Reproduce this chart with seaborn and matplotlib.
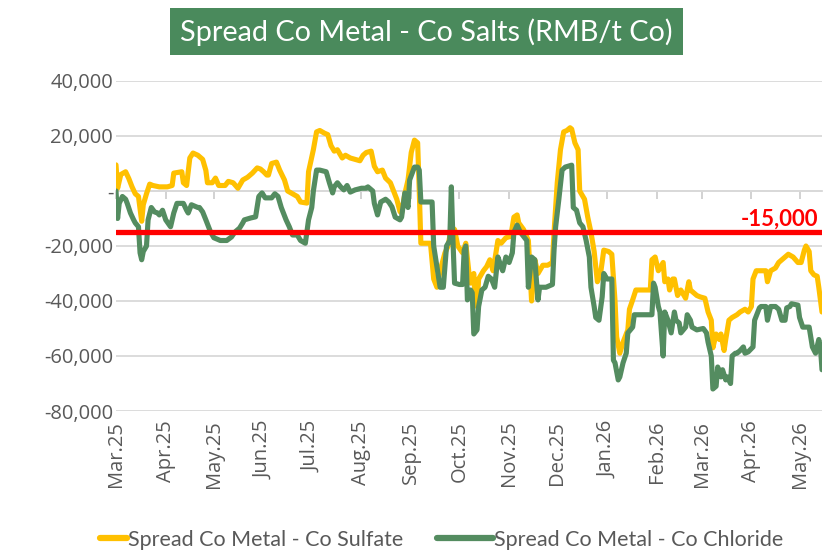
import numpy as np
import pandas as pd
import matplotlib
matplotlib.use("Agg")
import matplotlib.pyplot as plt
from matplotlib.ticker import FuncFormatter
from matplotlib.patches import Rectangle
from matplotlib.lines import Line2D
import seaborn as sns

# ---------------- data ----------------
title = "Spread Co Metal - Co Salts (RMB/t Co)"
series_names = ["Spread Co Metal - Co Sulfate", "Spread Co Metal - Co Chloride"]
start_date = "2025-03-01"          # day 0
month_labels_start = "2025-03-01"
month_labels_end = "2026-05-01"
threshold = -15000
threshold_label = "-15,000"
y_ticks = [40000, 20000, 0, -20000, -40000, -60000, -80000]

sulfate_day = [0, 1, 3, 6, 8, 10, 12, 14, 16, 17, 19, 21, 23, 27, 32, 35, 36, 41, 42, 44,
               46, 48, 51, 54, 56, 57, 60, 62, 64, 68, 70, 73, 76, 79, 82, 85, 88, 90, 92, 94,
               95, 97, 100, 102, 105, 107, 110, 113, 115, 119, 120, 123, 125, 127, 130, 132, 134, 136, 138, 141,
               143, 146, 149, 152, 154, 156, 159, 161, 163, 166, 168, 171, 173, 175, 177, 178, 180, 182, 184, 186,
               188, 189, 190, 196, 198, 200, 202, 205, 207, 209, 211, 213, 216, 218, 220, 221, 223, 224, 225, 226,
               229, 231, 233, 235, 238, 240, 243, 246, 248, 250, 251, 254, 256, 257, 259, 261, 263, 264, 266, 269,
               272, 273, 275, 277, 279, 281, 283, 284, 286, 288, 289, 291, 292, 294, 296, 298, 300, 302, 304, 307,
               309, 311, 312, 314, 316, 319, 320, 322, 324, 333, 334, 336, 338, 341, 342, 344, 345, 347, 348, 350,
               352, 355, 357, 358, 360, 362, 364, 367, 369, 371, 372, 374, 376, 377, 379, 380, 382, 384, 387, 389,
               392, 394, 396, 397, 399, 405, 406, 408, 411, 413, 415, 417, 419, 422, 425, 427, 429, 430, 432, 433,
               435, 437, 438, 440]
sulfate_value = [9500, 1000, 6000, 7000, 4500, 1500, -1000, -2000, -11000, -5000, -1000, 2500, 2000, 1500, 1500, 2000, 6500, 7000, 3000, 2000,
                 12000, 13800, 13000, 11500, 7500, 3000, 3000, 4700, 2000, 2000, 3500, 3000, 1000, 4000, 5000, 6500, 8400, 8000, 7000, 5800,
                 5800, 10000, 10500, 7600, 4000, 0, -1000, -2000, -4000, -4400, 7000, 15000, 21500, 22000, 21000, 20500, 16500, 14500, 15000, 12000,
                 13000, 12000, 11500, 11000, 13000, 14000, 14500, 9000, 7000, 7600, 4700, 3000, 0, -3000, -7500, -8000, -1000, 4000, 14000, 18500,
                 17500, 0, -19000, -19000, -32000, -35000, -29000, -22500, -20000, -13000, -14000, -20000, -22500, -19000, -30000, -33500, -30000, -41000, -42000, -32000,
                 -29000, -27500, -25000, -29000, -18000, -19000, -17000, -16500, -9500, -8700, -11600, -14000, -16700, -18000, -40000, -25000, -30000, -29000, -27000, -27000,
                 -26000, -15000, 3000, 15000, 21500, 22000, 23000, 22500, 17500, 15000, 0, -2000, -3000, -9500, -15000, -22000, -33000, -30000, -21500, -22000,
                 -23000, -40000, -53000, -59000, -55000, -50500, -43000, -39600, -36000, -36000, -25000, -24000, -29000, -26000, -33000, -32000, -36000, -32000, -32000, -38000,
                 -36000, -39000, -33000, -36000, -37000, -38000, -38500, -39000, -44000, -47000, -57000, -52000, -54000, -52000, -58000, -54000, -47000, -46000, -45000, -44000,
                 -43000, -44000, -42000, -32000, -29000, -29000, -33000, -29000, -28000, -26000, -25000, -24000, -23000, -24000, -26000, -26000, -21500, -20000, -22000, -29000,
                 -30500, -31000, -35000, -44000]

chloride_day = [0, 1, 2, 4, 6, 7, 9, 11, 12, 14, 15, 16, 17, 19, 20, 22, 24, 26, 27, 29,
                31, 34, 36, 38, 42, 44, 45, 47, 51, 52, 54, 56, 59, 61, 65, 69, 72, 74, 77, 79,
                80, 84, 87, 89, 91, 93, 97, 99, 101, 103, 106, 108, 110, 113, 115, 118, 120, 122, 123, 125,
                127, 131, 133, 135, 136, 138, 140, 142, 144, 146, 149, 153, 156, 157, 160, 161, 163, 165, 168, 170,
                172, 174, 177, 178, 180, 182, 183, 186, 188, 189, 190, 197, 198, 200, 202, 204, 206, 208, 209, 210,
                211, 214, 216, 217, 218, 219, 221, 222, 223, 225, 226, 228, 230, 232, 234, 236, 238, 240, 241, 243,
                245, 247, 248, 250, 252, 256, 257, 259, 261, 263, 264, 268, 272, 273, 274, 276, 278, 280, 284, 285,
                287, 289, 291, 293, 295, 296, 298, 299, 301, 303, 304, 306, 309, 310, 311, 313, 314, 316, 318, 319,
                322, 323, 334, 335, 336, 338, 339, 341, 342, 344, 346, 348, 349, 351, 352, 355, 356, 358, 359, 362,
                366, 368, 369, 371, 372, 374, 375, 377, 378, 380, 381, 383, 384, 386, 387, 389, 391, 392, 394, 397,
                398, 401, 402, 405, 406, 408, 411, 413, 415, 417, 418, 420, 421, 425, 426, 428, 432, 434, 436, 438,
                439, 440]
chloride_value = [0, -10000, -4500, -2000, -3000, -4500, -8000, -10500, -11600, -13000, -22500, -25000, -22000, -20000, -10500, -6000, -7600, -8000, -8700, -7000,
                  -10500, -13000, -8000, -4500, -4500, -7000, -8000, -5000, -6000, -6000, -7600, -10500, -15000, -17000, -18000, -18000, -16700, -15000, -13500, -11600,
                  -10500, -9800, -9400, -2000, -700, -2500, -2500, -1000, -2000, -6000, -10500, -13000, -16000, -16000, -18000, -19000, -10500, -6000, 0, 7600,
                  7600, 7000, 3000, -700, 1500, 3000, 1500, 400, 2000, -400, 400, 1000, 1000, 1500, 0, -4500, -8700, -4000, -3000, -4000,
                  -5800, -9500, -10500, -9500, -700, -6000, 4000, 8700, 8700, 7600, -4000, -4000, -20000, -27500, -35000, -35000, -20000, -18000, 1500, -18000,
                  -33500, -34000, -34000, -21500, -20000, -39600, -36000, -37000, -52000, -50500, -42000, -36000, -35000, -31000, -32000, -35000, -24000, -27500, -29000, -24000,
                  -26000, -22500, -15000, -12400, -15000, -18000, -35000, -24000, -25000, -39600, -35000, -35000, -34000, -21500, -13000, -3000, 7600, 8700, 9400, -6000,
                  -7000, -11600, -13000, -18000, -24000, -35000, -42000, -46000, -47000, -38500, -30000, -32000, -32000, -61500, -62500, -68700, -67600, -62500, -59000, -51600,
                  -49500, -45000, -45000, -33500, -35000, -42000, -44000, -60000, -44000, -47000, -51600, -44000, -47000, -48000, -51600, -49500, -45000, -47000, -49500, -50500,
                  -50000, -51600, -55000, -60000, -72000, -71000, -64000, -67600, -65000, -68700, -67600, -70000, -60000, -59000, -59000, -58000, -56700, -59000, -58500, -56700,
                  -47000, -42500, -42000, -42000, -47000, -42000, -42000, -43000, -47000, -47000, -42500, -42000, -41000, -41500, -46000, -49500, -49500, -56700, -59000, -54000,
                  -56700, -65000]

# ---------------- style ----------------
sns.set_theme(style="white")
plt.rcParams["font.family"] = ["Lato", "DejaVu Sans"]

col_sulfate = "#FFC000"
col_chloride = "#548C60"
col_text = "#595959"
col_grid = "#D9D9D9"
tick_font = ["Open Sans", "DejaVu Sans"]

start = pd.Timestamp(start_date)
df = pd.concat([
    pd.DataFrame({"date": start + pd.to_timedelta(sulfate_day, unit="D"),
                  "value": sulfate_value, "series": series_names[0]}),
    pd.DataFrame({"date": start + pd.to_timedelta(chloride_day, unit="D"),
                  "value": chloride_value, "series": series_names[1]}),
], ignore_index=True)

fig = plt.figure(figsize=(8.26, 5.56), dpi=100)
ax = fig.add_axes([116 / 826, 1 - 411 / 556, (822 - 116) / 826, (411 - 81) / 556])

sns.lineplot(data=df, x="date", y="value", hue="series",
             palette={series_names[0]: col_sulfate, series_names[1]: col_chloride},
             linewidth=3.7, ax=ax, legend=False, estimator=None, sort=False)

ax.axhline(threshold, color="#FF0000", linewidth=3.8, zorder=6)
ax.annotate(threshold_label, xy=(1, threshold), xycoords=ax.get_yaxis_transform(),
            xytext=(-3, 1.5), textcoords="offset points", ha="right", va="bottom",
            color="#FF0000", fontweight="bold", fontsize=16, zorder=7)

# axes
ax.set_ylim(min(y_ticks), max(y_ticks))
ax.set_yticks(y_ticks)
ax.yaxis.set_major_formatter(FuncFormatter(lambda v, p: "-" if v == 0 else f"{v:,.0f}"))
ax.set_xlim(start, start + pd.Timedelta(days=max(sulfate_day)))
months = pd.date_range(month_labels_start, month_labels_end, freq="MS")
ax.set_xticks(months)
ax.set_xticklabels([m.strftime("%b.%y") for m in months], rotation=90)
ax.tick_params(axis="x", length=0, pad=7, labelsize=14.5, labelcolor=col_text)
ax.tick_params(axis="y", length=0, pad=2, labelsize=14.5, labelcolor=col_text)
for lab in ax.get_xticklabels() + ax.get_yticklabels():
    lab.set_fontfamily(tick_font)
ax.set_xlabel("")
ax.set_ylabel("")
ax.yaxis.grid(True, color=col_grid, linewidth=1.3)
ax.xaxis.grid(False)
for s in ax.spines.values():
    s.set_visible(False)

# category-axis tick marks on the zero line
frac0 = (0 - min(y_ticks)) / (max(y_ticks) - min(y_ticks))
sec = ax.secondary_xaxis(frac0)
sec.set_alignment("bottom")
sec.set_xticks(months)
sec.set_xticklabels([])
sec.tick_params(axis="x", direction="out", length=6, width=1.3, color="#CFCFCF")
sec.spines["bottom"].set_color(col_grid)
sec.spines["bottom"].set_linewidth(1.3)

# title box
fig.patches.append(Rectangle((170 / 826, 1 - 55 / 556), 513 / 826, 47 / 556,
                             transform=fig.transFigure, facecolor="#4A8A5C",
                             edgecolor="none", zorder=0))
fig.text(426 / 826, 1 - 32 / 556, title, ha="center", va="center",
         color="white", fontsize=20.8)

# legend (two entries, Excel-like spacing)
leg_y = 1 - 540 / 556
fig.legend([Line2D([], [], color=col_sulfate, linewidth=4.5)], [series_names[0]],
           loc="center left", bbox_to_anchor=(100 / 826, leg_y), frameon=False,
           fontsize=15.5, handlelength=1.25, handletextpad=0.05, borderpad=0,
           borderaxespad=0, labelcolor=col_text)
fig.legend([Line2D([], [], color=col_chloride, linewidth=4.5)], [series_names[1]],
           loc="center left", bbox_to_anchor=(437 / 826, leg_y), frameon=False,
           fontsize=15.5, handlelength=2.6, handletextpad=0.05, borderpad=0,
           borderaxespad=0, labelcolor=col_text)

fig.savefig("out.png", dpi=100)
